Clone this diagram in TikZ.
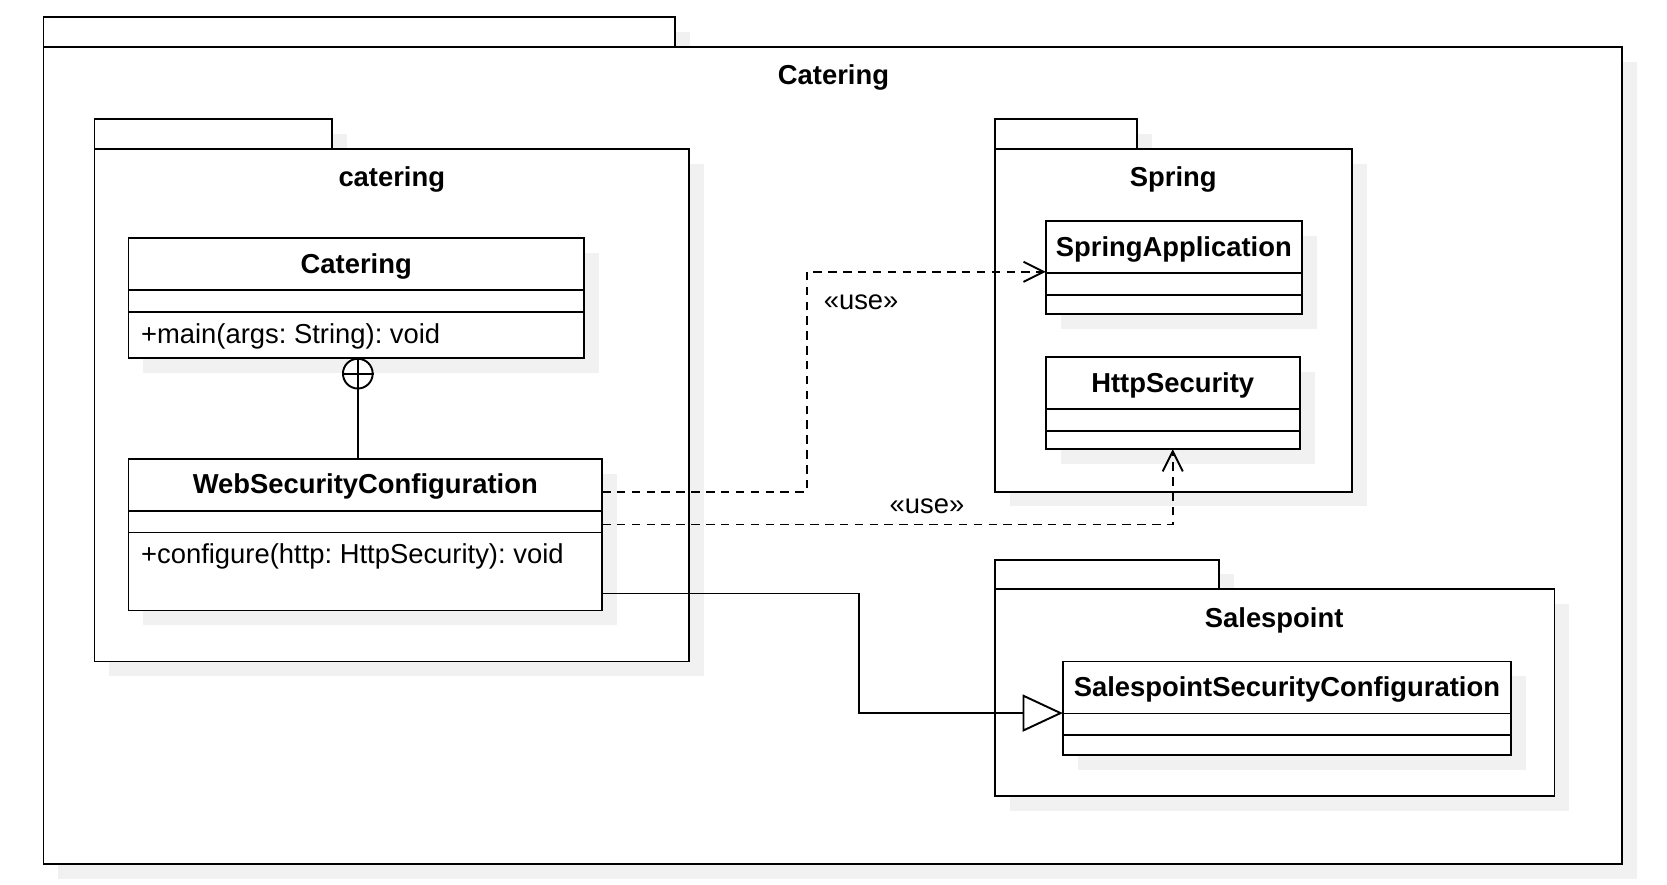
\documentclass[tikz,border=0pt]{standalone}
\usepackage{fontspec}
\setmainfont{Liberation Sans}
\usetikzlibrary{arrows.meta,positioning,fit,shadows}
\definecolor{shade}{RGB}{241,241,241}
\frenchspacing

\begin{document}
\begin{tikzpicture}[
	x              = 0.5pt,
	y              = -0.5pt,
	line width     = 0.9pt,
	font           = \fontsize{12.9}{15}\selectfont,
	shd/.style     = {drop shadow={shadow xshift=7pt, shadow yshift=-7pt, fill=shade, opacity=1}},
	pkg/.style     = {draw, fill=white, shd},
	cls/.style     = {draw, fill=white, shd, inner sep=0pt, outer sep=0pt, fit={#1}},
	txt/.style     = {yshift=-1.3pt},
	title/.style   = {txt, font=\fontsize{12.9}{15}\selectfont\bfseries},
	oper/.style    = {txt, anchor=west, inner sep=0pt},
	use/.style     = {dash pattern=on 4pt off 3pt, -{Straight Barb[length=9.5pt, width=9.5pt]}},
	inherit/.style = {-{Triangle[length=19pt, width=17.5pt, fill=white]}},
	nestc/.style   = {circle, draw, fill=white, inner sep=0pt, minimum size=14pt}]
	\useasboundingbox (0,0) rectangle (1570,833);
	% packages
	\path[pkg] (41,16) rectangle (636,44);
	\path[pkg] (41,44) rectangle (1528,814);
	\node[title] (outerlbl) at (785,70) {Catering};
	\path[pkg] (89,112) rectangle (313,140);
	\path[pkg] (89,140) rectangle (649,623);
	\node[title] (caterlbl) at (369,166) {catering};
	\path[pkg] (937,112) rectangle (1071,140);
	\path[pkg] (937,140) rectangle (1273,463);
	\node[title] (springlbl) at (1105,166) {Spring};
	\path[pkg] (937,527) rectangle (1148,555);
	\path[pkg] (937,555) rectangle (1464,750);
	\node[title] (salelbl) at (1200,582) {Salespoint};
	% classes
	\node[cls={(121,224) (550,337)}] (catcls) {};
	\node[cls={(121,432) (567,575)}] (wsc) {};
	\node[cls={(985,208) (1226,296)}] (sapp) {};
	\node[cls={(985,336) (1224,423)}] (http) {};
	\node[cls={(1001,623) (1423,711)}] (ssc) {};
	\node[title] (catname) at ([yshift=-12pt]catcls.north) {Catering};
	\node[title] (wscname) at ([yshift=-12pt]wsc.north) {WebSecurityConfiguration};
	\node[title] (sappname) at ([yshift=-12pt]sapp.north) {SpringApplication};
	\node[title] (httpname) at ([yshift=-12pt]http.north) {HttpSecurity};
	\node[title] (sscname) at ([yshift=-12pt]ssc.north) {SalespointSecurityConfiguration};
	\foreach \c in {catcls, wsc, sapp, http, ssc}
	  \draw ([yshift=-24.5pt]\c.north west) -- ([yshift=-24.5pt]\c.north east)
	        ([yshift=-34.75pt]\c.north west) -- ([yshift=-34.75pt]\c.north east);
	\node[oper] (catmain) at ([xshift=5.5pt, yshift=-45pt]catcls.north west) {+main(args: String): void};
	\node[oper] (wscconf) at ([xshift=5.5pt, yshift=-44.5pt]wsc.north west) {+configure(http: HttpSecurity): void};
	% nesting
	\node[nestc, anchor=north] (nest) at ([xshift=0.75pt]catcls.south) {};
	\draw (nest.north) -- (nest.south) (nest.west) -- (nest.east);
	\draw (nest.south) -- (nest.south |- wsc.north);
	% dependencies
	\draw[use] ([yshift=-15.5pt]wsc.north east) -- ++(193,0) |- ([yshift=-2pt]sapp.west);
	\draw[use] ([yshift=-31pt]wsc.north east) -| (http.south);
	\draw[inherit] ([yshift=-63.5pt]wsc.north east) -- ++(242,0) |- ([yshift=-2.3pt]ssc.west);
	\node[txt] (use1) at (811,282) {«use»};
	\node[txt] (use2) at (873,474) {«use»};
\end{tikzpicture}
\end{document}
